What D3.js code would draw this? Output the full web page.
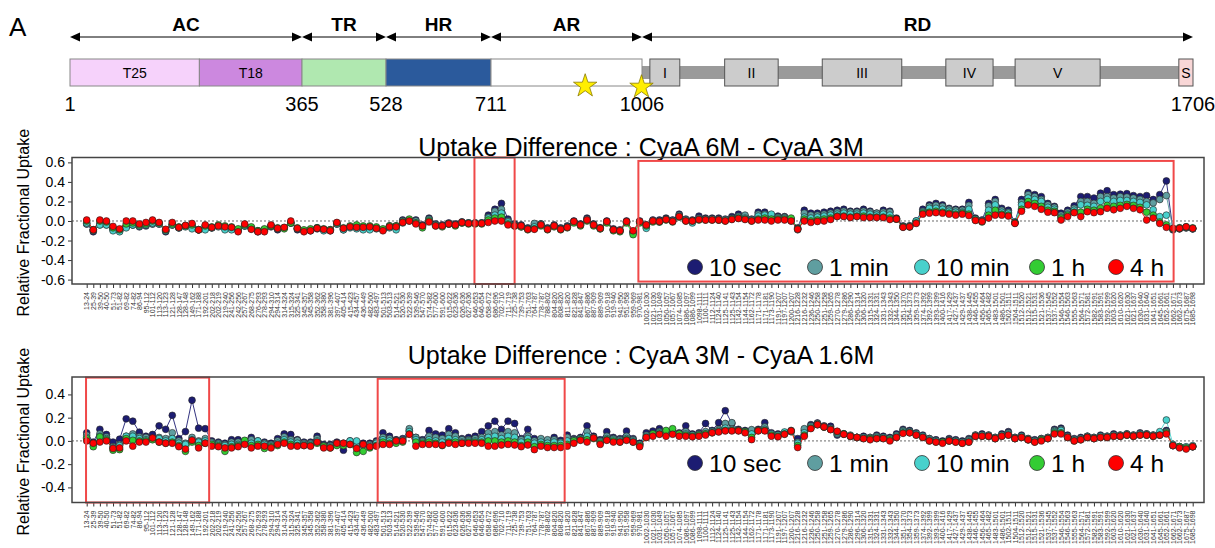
<!DOCTYPE html>
<html>
<head>
<meta charset="utf-8">
<script src="https://cdn.jsdelivr.net/npm/d3@7"></script>
<style>
  body { margin: 0; background: #fff; }
  svg { font-family: Arial, "Liberation Sans", sans-serif; display: block; }
</style>
</head>
<body>
<svg id="fig" width="1215" height="548"></svg>
<script>
// ---- protein map ----
const domainMarks = [1, 365, 528, 711, 1006, 1706];
const domainNames = ["AC", "TR", "HR", "AR", "RD"];
const segments = [
  { name: "T25", from: 1, to: 204, fill: "#f6d2fb" },
  { name: "T18", from: 204, to: 365, fill: "#cc88df" },
  { name: "", from: 365, to: 528, fill: "#b0e8b0" },
  { name: "", from: 528, to: 711, fill: "#2b5a9c" },
  { name: "", from: 711, to: 1006, fill: "#ffffff" }
];
const rtxBlocks = [
  { name: "I", from: 1016, to: 1054 },
  { name: "II", from: 1111, to: 1179 },
  { name: "III", from: 1235, to: 1336 },
  { name: "IV", from: 1392, to: 1452 },
  { name: "V", from: 1480, to: 1588 }
];
const signalBlock = { name: "S", from: 1688, to: 1706 };
const stars = [895, 1005];

// ---- peptides (x axis) ----
const peptides = ["13-24","25-39","39-50","40-50","51-73","51-82","69-82","74-82","86-94","95-112",
"101-112","113-120","113-123","121-128","128-147","128-148","149-162","171-188","192-201","202-218",
"202-219","219-240","241-256","242-256","257-267","268-275","276-293","278-293","294-310","294-314",
"314-324","315-324","325-341","345-357","345-358","352-362","358-380","381-396","397-407","405-414",
"415-423","434-457","436-449","482-500","483-497","501-513","503-513","514-521","520-530","522-539",
"539-546","547-570","574-582","577-600","591-600","615-622","623-636","626-636","627-636","646-653",
"646-654","658-672","686-696","702-710","711-719","725-738","739-753","751-763","764-787","778-787",
"788-802","804-820","808-820","811-820","821-828","841-847","867-886","887-909","889-909","910-918",
"919-940","941-950","951-958","959-969","970-981","1002-1030","1021-1030","1031-1049","1050-1057","1057-1067",
"1074-1085","1086-1097","1086-1099","1098-1111","1100-1111","1112-1124","1124-1140","1125-1141","1125-1143","1142-1154",
"1144-1154","1162-1172","1171-1178","1171-1181","1173-1190","1191-1207","1197-1207","1200-1207","1216-1228","1216-1232",
"1236-1246","1250-1258","1251-1258","1259-1265","1270-1278","1279-1286","1286-1290","1296-1314","1306-1320","1315-1331",
"1324-1331","1331-1343","1332-1343","1344-1350","1351-1370","1354-1373","1359-1373","1374-1392","1392-1399","1393-1399",
"1400-1416","1417-1429","1427-1437","1429-1437","1438-1445","1446-1455","1456-1464","1465-1482","1483-1501","1486-1501",
"1502-1511","1504-1511","1512-1520","1512-1521","1515-1531","1521-1536","1537-1545","1537-1552","1546-1554","1546-1563",
"1555-1563","1564-1571","1572-1581","1582-1591","1583-1591","1592-1599","1603-1620","1610-1620","1621-1630","1621-1637",
"1630-1640","1631-1640","1641-1651","1645-1661","1652-1661","1662-1671","1662-1673","1675-1687","1685-1698"];

const timepoints = ["10 sec", "1 min", "10 min", "1 h", "4 h"];
const tpColors = ["#1c1c72", "#5f9ea0", "#48d1cc", "#33cc33", "#ff0000"];

// ---- CyaA 6M - CyaA 3M ----
const diff6M_10s = [-0.03,-0.11,-0.03,-0.03,-0.08,-0.10,-0.06,-0.04,-0.06,-0.05,
-0.03,-0.03,-0.11,-0.04,-0.07,-0.05,-0.05,-0.09,-0.06,-0.07,
-0.05,-0.07,-0.07,-0.10,-0.05,-0.08,-0.11,-0.09,-0.06,-0.09,
-0.07,-0.02,-0.09,-0.10,-0.10,-0.08,-0.09,-0.10,-0.03,-0.08,
-0.06,-0.06,-0.07,-0.06,-0.07,-0.09,-0.05,-0.05,0.01,0.01,
0.01,-0.04,0.03,-0.03,-0.04,-0.02,-0.03,-0.01,-0.02,-0.02,
-0.02,0.06,0.12,0.18,0.02,-0.03,-0.04,-0.07,-0.04,-0.03,
-0.07,-0.04,-0.07,-0.05,0.0,-0.03,0.03,-0.03,-0.07,0.0,
-0.08,-0.09,0.0,-0.11,0.0,-0.04,0.01,0.01,0.03,0.01,
0.07,0.02,0.01,0.05,0.03,0.03,0.03,0.02,0.045,0.07,
0.05,0.02,0.09,0.09,0.06,0.05,0.045,0.02,-0.07,0.11,
0.08,0.08,0.09,0.10,0.11,0.12,0.10,0.10,0.12,0.10,
0.08,0.11,0.10,0.03,-0.05,-0.05,0.0,0.12,0.165,0.18,
0.165,0.13,0.12,0.12,0.19,0.03,0.01,0.18,0.22,0.13,
0.11,-0.01,0.22,0.29,0.27,0.25,0.18,0.15,0.08,0.11,
0.155,0.25,0.25,0.235,0.285,0.31,0.27,0.275,0.28,0.26,
0.25,0.26,0.22,0.27,0.41,-0.09,-0.08,-0.07,-0.08];
const diff6M_1m = [-0.03,-0.10,-0.04,-0.04,-0.09,-0.10,-0.06,-0.04,-0.05,-0.04,
-0.03,-0.03,-0.10,-0.04,-0.07,-0.05,-0.06,-0.09,-0.08,-0.07,
-0.05,-0.08,-0.08,-0.09,-0.05,-0.07,-0.10,-0.09,-0.05,-0.08,
-0.07,-0.02,-0.08,-0.10,-0.09,-0.07,-0.09,-0.09,-0.03,-0.09,
-0.06,-0.07,-0.08,-0.08,-0.07,-0.09,-0.06,-0.07,0.0,0.01,
0.0,-0.05,0.02,-0.04,-0.05,-0.03,-0.04,-0.01,-0.02,-0.02,
-0.02,0.04,0.10,0.12,0.0,-0.04,-0.05,-0.08,-0.025,-0.03,
-0.08,-0.05,-0.08,-0.06,-0.01,-0.04,0.02,-0.04,-0.07,-0.01,
-0.09,-0.10,-0.01,-0.12,-0.01,-0.06,0.0,0.0,0.02,0.0,
0.06,0.01,0.0,0.03,0.02,0.02,0.02,0.01,0.03,0.05,
0.06,0.01,0.07,0.07,0.05,0.04,0.04,0.01,-0.08,0.08,
0.06,0.06,0.07,0.08,0.09,0.10,0.09,0.09,0.10,0.09,
0.08,0.09,0.09,0.02,-0.06,-0.05,-0.01,0.10,0.15,0.16,
0.15,0.12,0.11,0.11,0.16,0.02,0.0,0.155,0.20,0.11,
0.09,-0.02,0.19,0.27,0.25,0.22,0.165,0.14,0.06,0.09,
0.13,0.20,0.20,0.18,0.25,0.25,0.235,0.25,0.245,0.235,
0.22,0.20,0.185,0.22,0.26,-0.08,-0.08,-0.07,-0.08];
const diff6M_10m = [-0.02,-0.09,-0.04,-0.04,-0.10,-0.11,-0.07,-0.04,-0.05,-0.04,
-0.02,-0.03,-0.10,-0.04,-0.07,-0.06,-0.08,-0.09,-0.09,-0.07,
-0.06,-0.09,-0.09,-0.09,-0.05,-0.07,-0.10,-0.09,-0.05,-0.08,
-0.07,-0.02,-0.08,-0.10,-0.09,-0.07,-0.10,-0.09,-0.03,-0.09,
-0.07,-0.08,-0.09,-0.09,-0.08,-0.09,-0.07,-0.09,-0.02,0.0,
-0.02,-0.05,0.01,-0.04,-0.05,-0.03,-0.04,-0.02,-0.02,-0.02,
-0.02,0.03,0.06,0.08,-0.01,-0.05,-0.06,-0.08,-0.06,-0.04,
-0.08,-0.05,-0.08,-0.06,-0.01,-0.04,0.01,-0.04,-0.08,-0.01,
-0.09,-0.10,-0.01,-0.12,-0.01,-0.075,0.0,-0.01,0.02,0.0,
0.05,0.01,-0.02,0.02,0.02,0.02,0.01,0.01,0.02,0.04,
0.03,0.01,0.05,0.06,0.07,0.03,0.03,0.0,-0.09,0.04,
0.03,0.04,0.05,0.06,0.07,0.08,0.07,0.07,0.08,0.07,
0.06,0.07,0.06,0.02,-0.06,-0.06,0.0,0.09,0.13,0.13,
0.12,0.10,0.09,0.09,0.12,0.02,0.0,0.11,0.165,0.09,
0.08,-0.02,0.165,0.235,0.22,0.20,0.14,0.12,0.04,0.07,
0.11,0.165,0.16,0.15,0.20,0.22,0.20,0.21,0.21,0.20,
0.19,0.165,0.115,0.045,0.06,-0.08,-0.07,-0.06,-0.08];
const diff6M_1h = [0.0,-0.09,0.0,-0.01,-0.07,-0.09,-0.03,-0.02,-0.04,-0.03,
0.0,-0.02,-0.09,-0.03,-0.06,-0.05,-0.04,-0.09,-0.05,-0.06,
-0.04,-0.05,-0.06,-0.08,-0.04,-0.06,-0.10,-0.08,-0.05,-0.07,
-0.08,-0.02,-0.07,-0.09,-0.08,-0.07,-0.08,-0.09,-0.02,-0.07,
-0.05,-0.04,-0.05,-0.05,-0.06,-0.08,-0.05,-0.05,-0.01,0.02,
-0.02,-0.07,0.0,-0.05,-0.06,-0.03,-0.05,-0.02,-0.03,-0.03,
-0.03,0.01,0.03,0.04,-0.03,-0.05,-0.06,-0.09,-0.08,-0.05,
-0.09,-0.06,-0.09,-0.07,-0.02,-0.05,0.0,-0.05,-0.08,-0.02,
-0.10,-0.11,-0.02,-0.14,-0.02,-0.05,-0.01,-0.01,0.01,-0.01,
0.04,0.0,0.0,0.01,0.01,0.01,0.01,0.0,0.02,0.03,
0.02,0.0,0.02,0.03,0.02,0.02,0.02,0.03,-0.08,0.02,
0.0,0.01,0.02,0.03,0.05,0.05,0.04,0.05,0.05,0.04,
0.04,0.04,0.03,0.02,-0.06,-0.06,-0.02,0.08,0.09,0.10,
0.09,0.08,0.07,0.08,0.07,0.01,-0.01,0.06,0.11,0.07,
0.06,-0.02,0.12,0.20,0.18,0.15,0.11,0.10,0.03,0.06,
0.09,0.09,0.12,0.11,0.13,0.16,0.15,0.16,0.17,0.16,
0.14,0.09,0.06,-0.01,-0.04,-0.08,-0.07,-0.06,-0.07];
const diff6M_4h = [0.01,-0.09,0.01,0.0,-0.055,-0.08,0.0,0.0,-0.03,-0.015,
0.01,-0.015,-0.085,-0.015,-0.065,-0.045,-0.025,-0.09,-0.04,-0.065,
-0.05,-0.06,-0.065,-0.11,-0.03,-0.085,-0.11,-0.11,-0.04,-0.075,
-0.065,0.0,-0.075,-0.11,-0.10,-0.075,-0.085,-0.10,-0.015,-0.075,
-0.06,-0.065,-0.065,-0.06,-0.075,-0.10,-0.06,-0.06,-0.015,0.0,
-0.03,-0.05,-0.01,-0.05,-0.05,-0.03,-0.04,-0.015,-0.025,-0.025,
-0.025,-0.015,0.0,0.0,-0.04,-0.05,-0.05,-0.085,-0.085,-0.04,
-0.085,-0.05,-0.085,-0.065,-0.005,-0.04,0.01,-0.04,-0.075,-0.005,
-0.09,-0.10,-0.005,-0.10,-0.005,-0.04,0.0,-0.005,0.015,-0.005,
0.045,0.0,0.0,0.015,0.01,0.01,0.01,0.0,0.015,0.025,
0.015,0.0,0.01,0.01,0.0,0.01,0.01,0.0,-0.085,0.0,
-0.015,-0.005,0.0,0.015,0.045,0.045,0.035,0.045,0.035,0.035,
0.035,0.035,0.015,0.02,-0.065,-0.06,-0.025,0.07,0.08,0.085,
0.08,0.07,0.06,0.07,0.055,0.005,-0.005,0.03,0.06,0.06,
0.05,-0.025,0.10,0.165,0.15,0.12,0.09,0.085,0.01,0.045,
0.085,0.045,0.095,0.085,0.095,0.13,0.115,0.13,0.15,0.13,
0.115,0.01,0.03,-0.025,-0.065,-0.075,-0.075,-0.06,-0.075];

// ---- CyaA 3M - CyaA 1.6M ----
const diff3M_10s = [0.07,-0.01,0.10,0.055,-0.01,0.015,0.19,0.17,0.075,0.04,
0.055,0.13,0.10,0.22,0.02,0.08,0.35,0.11,0.105,0.0,
-0.01,-0.02,0.01,0.01,0.0,0.03,0.0,-0.01,-0.02,0.02,
0.06,0.055,0.01,-0.01,-0.01,0.04,-0.03,-0.03,-0.01,-0.08,
0.0,-0.03,-0.02,-0.02,0.0,0.07,0.04,0.01,0.02,0.09,
0.03,0.01,0.09,0.06,0.05,0.105,0.07,0.02,0.03,0.04,
0.08,0.13,0.17,0.10,0.17,0.15,0.02,0.10,0.02,0.01,
0.0,0.03,0.005,0.05,0.02,0.03,0.13,0.04,0.01,0.08,
0.03,0.02,0.085,0.02,-0.02,0.07,0.085,0.105,0.08,0.08,
0.07,0.13,0.06,0.07,0.15,0.09,0.157,0.26,0.15,0.10,
0.09,0.09,0.10,0.157,0.07,0.06,0.07,0.08,0.02,0.09,
0.14,0.154,0.13,0.126,0.05,0.06,0.04,0.03,0.04,0.03,
0.05,0.04,0.03,0.06,0.10,0.09,0.07,0.05,0.02,0.01,
0.0,0.02,0.01,0.0,0.02,0.05,0.06,0.05,0.03,0.06,
0.08,0.03,0.05,0.02,0.01,0.02,0.03,0.10,0.11,0.05,
0.02,0.03,0.04,0.03,0.05,0.04,0.06,0.05,0.06,0.05,
0.07,0.06,0.05,0.06,0.09,-0.04,-0.05,-0.06,-0.05];
const diff3M_1m = [0.05,-0.02,0.06,0.035,-0.05,-0.03,0.04,0.06,0.035,0.03,
0.02,0.03,0.02,0.07,0.0,-0.02,0.03,0.0,0.02,-0.01,
-0.02,-0.03,-0.01,-0.01,-0.01,0.01,-0.01,-0.02,-0.03,0.0,
0.035,0.01,0.005,-0.02,-0.02,0.02,-0.04,-0.04,-0.02,-0.03,
-0.01,-0.04,-0.03,-0.03,-0.01,0.03,0.02,0.005,0.01,0.105,
0.03,0.0,0.04,0.03,0.02,0.057,0.04,0.01,0.01,0.02,
0.03,0.07,0.08,0.05,0.08,0.07,0.01,0.04,0.0,0.02,
0.01,0.01,-0.01,0.03,0.01,0.02,0.08,0.03,0.0,0.04,
0.02,0.01,0.04,0.01,-0.03,0.05,0.06,0.08,0.07,0.08,
0.06,0.08,0.05,0.06,0.08,0.08,0.10,0.15,0.157,0.09,
0.08,0.097,0.09,0.12,0.06,0.05,0.065,0.09,-0.01,0.105,
0.13,0.15,0.12,0.11,0.06,0.06,0.05,0.03,0.03,0.03,
0.04,0.03,0.02,0.05,0.09,0.08,0.06,0.04,0.02,0.0,
-0.01,0.01,0.0,-0.01,0.01,0.05,0.05,0.05,0.03,0.05,
0.07,0.03,0.04,0.02,0.0,0.02,0.03,0.09,0.10,0.04,
0.01,0.02,0.04,0.03,0.04,0.04,0.05,0.05,0.06,0.05,
0.06,0.06,0.05,0.05,0.08,-0.04,-0.05,-0.06,-0.05];
const diff3M_10m = [0.03,-0.03,0.04,0.02,-0.06,-0.04,0.04,0.04,0.02,0.01,
0.02,0.02,0.0,0.02,-0.02,-0.03,0.01,-0.01,0.0,-0.02,
-0.03,-0.04,-0.03,-0.03,-0.01,-0.02,0.0,-0.03,-0.04,-0.02,
0.01,-0.01,-0.02,-0.03,-0.03,0.0,-0.05,-0.05,-0.03,-0.02,
0.0,0.0,-0.04,-0.04,-0.02,0.01,0.0,-0.01,0.0,0.08,
0.01,-0.01,0.01,0.0,-0.01,0.02,0.01,-0.01,0.0,0.0,
0.01,0.03,0.04,0.02,0.04,0.03,-0.01,0.02,-0.02,-0.01,
-0.02,-0.01,-0.02,0.0,0.0,0.02,0.04,0.03,-0.01,0.02,
0.01,0.0,0.02,0.0,-0.03,0.04,0.05,0.07,0.06,0.07,
0.05,0.06,0.05,0.05,0.06,0.08,0.09,0.11,0.10,0.09,
0.08,0.06,0.09,0.10,0.06,0.05,0.077,0.08,-0.02,0.07,
0.12,0.14,0.12,0.10,0.07,0.06,0.04,0.03,0.03,0.02,
0.03,0.03,0.02,0.04,0.08,0.08,0.06,0.04,0.01,0.0,
-0.01,0.0,0.0,-0.01,0.0,0.04,0.05,0.04,0.02,0.05,
0.06,0.02,0.04,0.01,0.0,0.01,0.02,0.08,0.09,0.03,
0.01,0.02,0.03,0.02,0.04,0.03,0.05,0.04,0.05,0.04,
0.06,0.05,0.04,0.08,0.18,-0.03,-0.05,-0.05,-0.04];
const diff3M_1h = [0.02,-0.05,0.035,0.01,-0.08,-0.075,0.02,0.005,0.0,0.0,
0.01,-0.01,-0.02,-0.01,-0.04,-0.09,-0.01,-0.04,-0.02,-0.03,
-0.04,-0.09,-0.05,-0.04,0.005,-0.04,-0.03,-0.065,-0.05,-0.04,
-0.01,-0.03,-0.04,-0.04,-0.04,-0.02,-0.045,-0.06,-0.04,-0.04,
-0.03,-0.10,-0.09,-0.06,-0.04,-0.01,-0.02,-0.02,-0.01,0.06,
-0.01,-0.02,-0.01,-0.02,-0.04,-0.01,-0.01,-0.02,-0.01,-0.01,
-0.01,0.0,0.0,-0.01,0.0,-0.01,-0.04,-0.01,-0.05,-0.03,
-0.04,-0.04,-0.04,-0.03,0.0,0.01,0.01,0.02,-0.02,0.01,
0.0,-0.01,0.01,-0.01,-0.04,0.03,0.06,0.06,0.09,0.105,
0.06,0.05,0.04,0.05,0.06,0.07,0.08,0.09,0.09,0.09,
0.08,0.03,0.09,0.09,0.05,0.04,0.06,0.085,-0.04,0.05,
0.11,0.14,0.12,0.10,0.08,0.06,0.04,0.03,0.02,0.02,
0.02,0.02,0.01,0.03,0.07,0.07,0.05,0.03,0.0,-0.01,
-0.01,0.0,-0.01,-0.02,-0.01,0.04,0.04,0.04,0.02,0.04,
0.05,0.02,0.03,0.01,-0.01,0.01,0.02,0.07,0.07,0.03,
0.0,0.01,0.03,0.02,0.03,0.03,0.04,0.04,0.05,0.04,
0.05,0.05,0.04,0.05,0.07,-0.04,-0.05,-0.06,-0.05];
const diff3M_4h = [0.0,-0.02,-0.01,0.0,-0.065,-0.06,0.0,-0.045,-0.01,-0.01,
0.025,-0.01,-0.02,-0.02,-0.05,-0.07,0.005,-0.06,-0.02,-0.045,
-0.05,-0.06,-0.06,-0.05,-0.03,-0.06,-0.045,-0.045,-0.06,-0.03,
-0.02,-0.045,-0.045,-0.04,-0.045,-0.01,-0.06,-0.06,-0.02,-0.02,
-0.03,-0.065,-0.03,-0.05,-0.045,-0.03,-0.03,0.0,0.0,0.057,
-0.045,-0.03,-0.03,-0.03,-0.037,-0.02,-0.03,-0.02,-0.02,-0.02,
-0.02,-0.045,-0.045,-0.035,-0.03,-0.035,-0.05,-0.035,-0.075,-0.045,
-0.057,-0.057,-0.057,-0.045,-0.02,0.005,-0.01,0.025,-0.03,0.005,
-0.01,-0.01,0.005,-0.01,-0.05,0.03,0.04,0.057,0.04,0.057,
0.04,0.04,0.035,0.04,0.05,0.07,0.077,0.086,0.086,0.086,
0.07,0.011,0.086,0.086,0.04,0.035,0.057,0.086,-0.057,0.04,
0.106,0.14,0.12,0.097,0.083,0.057,0.04,0.03,0.02,0.01,
0.02,0.02,0.0,0.03,0.065,0.07,0.05,0.03,0.0,-0.01,
-0.02,0.0,-0.01,-0.02,-0.01,0.04,0.04,0.04,0.02,0.04,
0.05,0.02,0.03,0.01,-0.01,0.0,0.02,0.06,0.06,0.03,
0.0,0.01,0.03,0.02,0.03,0.03,0.04,0.04,0.05,0.04,
0.05,0.05,0.04,0.05,0.06,-0.04,-0.06,-0.07,-0.05];

const svg = d3.select("#fig");

// ================= protein map =================
const resX = d3.scaleLinear().domain(domainMarks).range([70, 302, 386, 491, 642, 1193]);
const barTop = 59, barH = 27, arrowY = 37;

svg.append("text").attr("x", 9).attr("y", 36).attr("font-size", 26).text("A");

// double headed arrows for each region
domainNames.forEach((name, i) => {
  const x0 = resX(domainMarks[i]), x1 = resX(domainMarks[i + 1]);
  const g = svg.append("g");
  g.append("line").attr("x1", x0 + 6).attr("x2", x1 - 6)
    .attr("y1", arrowY).attr("y2", arrowY).attr("stroke", "#000").attr("stroke-width", 1);
  g.append("path").attr("d", `M${x0},${arrowY}L${x0 + 10},${arrowY - 4.5}L${x0 + 10},${arrowY + 4.5}Z`).attr("fill", "#000");
  g.append("path").attr("d", `M${x1},${arrowY}L${x1 - 10},${arrowY - 4.5}L${x1 - 10},${arrowY + 4.5}Z`).attr("fill", "#000");
  g.append("text").attr("x", (x0 + x1) / 2).attr("y", 31).attr("text-anchor", "middle")
    .attr("font-size", 19).attr("font-weight", "bold").text(name);
});

// RTX grey backbone
svg.append("rect").attr("x", resX(1006)).attr("y", barTop + 7)
  .attr("width", resX(signalBlock.from) - resX(1006)).attr("height", 13).attr("fill", "#9a9a9a");

svg.selectAll("rect.seg").data(segments).enter().append("rect")
  .attr("x", d => resX(d.from)).attr("y", barTop)
  .attr("width", d => resX(d.to) - resX(d.from)).attr("height", barH)
  .attr("fill", d => d.fill).attr("stroke", "#888").attr("stroke-width", 1);
svg.selectAll("text.seg").data(segments.filter(d => d.name)).enter().append("text")
  .attr("x", d => (resX(d.from) + resX(d.to)) / 2).attr("y", barTop + 19)
  .attr("text-anchor", "middle").attr("font-size", 14).text(d => d.name);

const blocks = rtxBlocks.map(d => Object.assign({ fill: "#cccccc" }, d))
  .concat([Object.assign({ fill: "#f8d6d6" }, signalBlock)]);
svg.selectAll("rect.blk").data(blocks).enter().append("rect")
  .attr("x", d => resX(d.from)).attr("y", barTop)
  .attr("width", d => resX(d.to) - resX(d.from)).attr("height", barH)
  .attr("fill", d => d.fill).attr("stroke", "#555").attr("stroke-width", 1);
svg.selectAll("text.blk").data(blocks).enter().append("text")
  .attr("x", d => (resX(d.from) + resX(d.to)) / 2).attr("y", barTop + 19)
  .attr("text-anchor", "middle").attr("font-size", 14).text(d => d.name);

// stars
svg.selectAll("path.star").data(stars).enter().append("path")
  .attr("d", d3.symbol(d3.symbolStar).size(170))
  .attr("transform", (d, i) => `translate(${resX(d)},${barTop + barH + (i ? 1 : 0)})`)
  .attr("fill", "#ffee00").attr("stroke", "#8a7a00").attr("stroke-width", 0.8);

// residue numbers
svg.selectAll("text.res").data(domainMarks).enter().append("text")
  .attr("x", d => resX(d)).attr("y", 111).attr("text-anchor", "middle")
  .attr("font-size", 20).text(d => d);

// ================= uptake difference panels =================
const panels = [
  {
    title: "Uptake Difference : CyaA 6M - CyaA 3M",
    values: [diff6M_10s, diff6M_1m, diff6M_10m, diff6M_1h, diff6M_4h],
    top: 157.5, bottom: 284, domain: [-0.645, 0.65],
    ticks: [-0.6, -0.4, -0.2, 0, 0.2, 0.4, 0.6],
    titleY: 156, legendY: 267,
    boxes: [{ from: 58.9, to: 65.0, y0: 0.65, y1: -0.645 }, { from: 83.8, to: 165.1, y0: 0.615, y1: -0.62 }]
  },
  {
    title: "Uptake Difference : CyaA 3M - CyaA 1.6M",
    values: [diff3M_10s, diff3M_1m, diff3M_10m, diff3M_1h, diff3M_4h],
    top: 377, bottom: 502.5, domain: [-0.53, 0.55],
    ticks: [-0.4, -0.2, 0, 0.2, 0.4],
    titleY: 364, legendY: 463,
    boxes: [{ from: -0.1, to: 18.6, y0: 0.545, y1: -0.53 }, { from: 44.2, to: 72.6, y0: 0.535, y1: -0.53 }]
  }
];

const plotLeft = 72, plotRight = 1204;
const x = d3.scalePoint().domain(peptides).range([86.7, 1192.7]);
const xAt = i => x(peptides[0]) + x.step() * i;
const legendX = [695, 815, 922, 1037, 1116];

panels.forEach(p => {
  const y = d3.scaleLinear().domain(p.domain).range([p.bottom, p.top]);
  const g = svg.append("g");

  g.append("text").attr("x", 641).attr("y", p.titleY).attr("text-anchor", "middle")
    .attr("font-size", 25).text(p.title);

  g.append("text")
    .attr("transform", `translate(29,${(p.top + p.bottom) / 2 + 2}) rotate(-90)`)
    .attr("text-anchor", "middle").attr("font-size", 16).text("Relative Fractional Uptake");

  // y axis
  const yAxis = g.append("g").attr("transform", `translate(${plotLeft},0)`)
    .call(d3.axisLeft(y).tickValues(p.ticks).tickSize(4).tickFormat(d => d.toFixed(1)));
  yAxis.select(".domain").remove();
  yAxis.selectAll("line").attr("stroke", "#333");
  yAxis.selectAll("text").attr("font-size", 14).attr("fill", "#000")
    .attr("font-family", "Arial, 'Liberation Sans', sans-serif");

  // x axis ticks + peptide labels
  const xAxis = g.append("g").attr("transform", `translate(0,${p.bottom})`)
    .call(d3.axisBottom(x).tickSize(4).tickPadding(3));
  xAxis.select(".domain").remove();
  xAxis.selectAll("line").attr("stroke", "#333");
  xAxis.selectAll("text")
    .attr("font-size", 7).attr("fill", "#333")
    .attr("font-family", "Arial, 'Liberation Sans', sans-serif")
    .attr("text-anchor", "end").attr("dy", "0.32em")
    .attr("transform", "translate(0,8) rotate(-90)")
    .attr("x", 0).attr("y", 0);

  // zero line
  g.append("line").attr("x1", plotLeft).attr("x2", plotRight)
    .attr("y1", y(0)).attr("y2", y(0))
    .attr("stroke", "#444").attr("stroke-width", 0.8).attr("stroke-dasharray", "2,2");

  // series
  p.values.forEach((vals, k) => {
    const line = d3.line().x((d, i) => x(peptides[i])).y(d => y(d));
    g.append("path").datum(vals).attr("d", line)
      .attr("fill", "none").attr("stroke", tpColors[k]).attr("stroke-width", 0.9);
  });
  p.values.forEach((vals, k) => {
    g.append("g").selectAll("circle").data(vals).enter().append("circle")
      .attr("cx", (d, i) => x(peptides[i])).attr("cy", d => y(d)).attr("r", 3.4)
      .attr("fill", tpColors[k]).attr("stroke", "#222").attr("stroke-width", 0.6);
  });

  // highlight boxes
  g.selectAll("rect.box").data(p.boxes).enter().append("rect")
    .attr("x", d => xAt(d.from)).attr("y", d => y(d.y0))
    .attr("width", d => xAt(d.to) - xAt(d.from)).attr("height", d => y(d.y1) - y(d.y0))
    .attr("fill", "none").attr("stroke", "#f04848").attr("stroke-width", 2);

  // frame
  g.append("rect").attr("x", plotLeft).attr("y", p.top)
    .attr("width", plotRight - plotLeft).attr("height", p.bottom - p.top)
    .attr("fill", "none").attr("stroke", "#444").attr("stroke-width", 1.5);

  // legend
  const lg = g.append("g");
  timepoints.forEach((t, k) => {
    lg.append("circle").attr("cx", legendX[k]).attr("cy", p.legendY).attr("r", 7.5)
      .attr("fill", tpColors[k]).attr("stroke", "#333").attr("stroke-width", 0.8);
    lg.append("text").attr("x", legendX[k] + 14).attr("y", p.legendY + 8.5)
      .attr("font-size", 24.5).text(t);
  });
});
</script>
</body>
</html>
